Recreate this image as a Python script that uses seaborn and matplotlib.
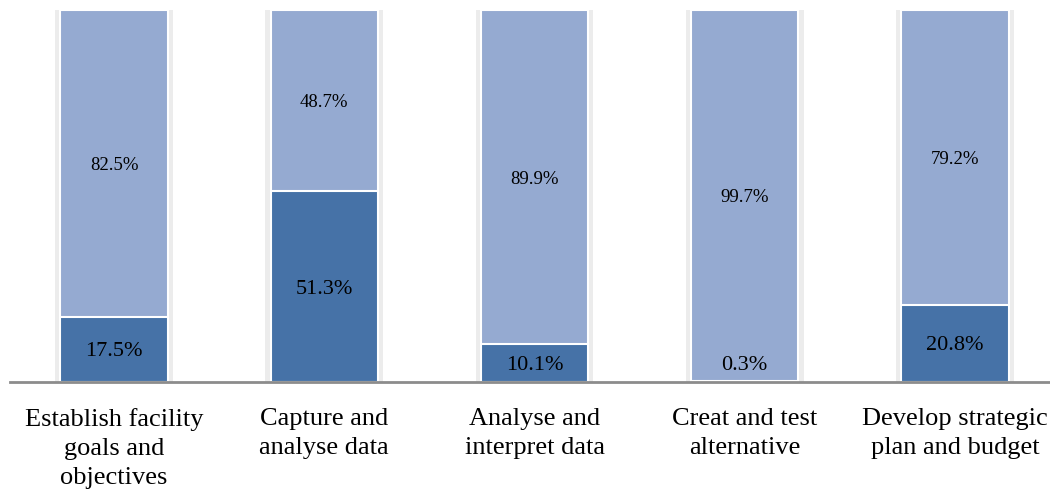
import matplotlib
matplotlib.use("Agg")
import matplotlib.pyplot as plt
import seaborn as sns
import pandas as pd

categories = [
    "Establish facility\ngoals and\nobjectives",
    "Capture and\nanalyse data",
    "Analyse and\ninterpret data",
    "Creat and test\nalternative",
    "Develop strategic\nplan and budget",
]
lower_pct = [17.5, 51.3, 10.1, 0.3, 20.8]
upper_pct = [82.5, 48.7, 89.9, 99.7, 79.2]

dark = "#4672A7"
light = "#95AAD1"

df = pd.DataFrame({"cat": categories, "lower": lower_pct, "upper": upper_pct})
df["total"] = df["lower"] + df["upper"]

sns.set_theme(style="white")
plt.rcParams["font.family"] = ["Liberation Serif", "DejaVu Serif"]

fig = plt.figure(figsize=(10.5, 4.94), dpi=100)
ax = fig.add_axes([10 / 1050, 1 - 382 / 494, 1 - 10 / 1050, 372 / 494])

# faint shadow behind each column
sns.barplot(data=df, x="cat", y="total", color="#ececec", width=0.56,
            saturation=1, ax=ax, linewidth=0, zorder=1)
sns.barplot(data=df, x="cat", y="total", color=light, width=0.51,
            saturation=1, ax=ax, edgecolor="white", linewidth=1.5, zorder=2)
sns.barplot(data=df, x="cat", y="lower", color=dark, width=0.51,
            saturation=1, ax=ax, edgecolor="white", linewidth=1.5, zorder=3)

for i, (lo, up) in enumerate(zip(lower_pct, upper_pct)):
    ax.text(i, max(lo / 2, 5.0), f"{lo}%", ha="center", va="center_baseline",
            fontsize=16, color="#000000", zorder=5)
    ax.text(i, lo + up / 2, f"{up}%", ha="center", va="center_baseline",
            fontsize=13.5, color="#000000", zorder=5)

ax.set_xlim(-0.495, 4.452)
ax.set_ylim(0, 100)
ax.set_xlabel("")
ax.set_ylabel("")
ax.set_yticks([])
for s in ["top", "right", "left"]:
    ax.spines[s].set_visible(False)
ax.spines["bottom"].set_color("#8c8c8c")
ax.spines["bottom"].set_linewidth(2)
ax.spines["bottom"].set_zorder(6)
ax.tick_params(axis="x", length=0, pad=19, labelsize=19, colors="#000000")
for lbl in ax.get_xticklabels():
    lbl.set_linespacing(1.4)

fig.savefig("out.png", dpi=100)
